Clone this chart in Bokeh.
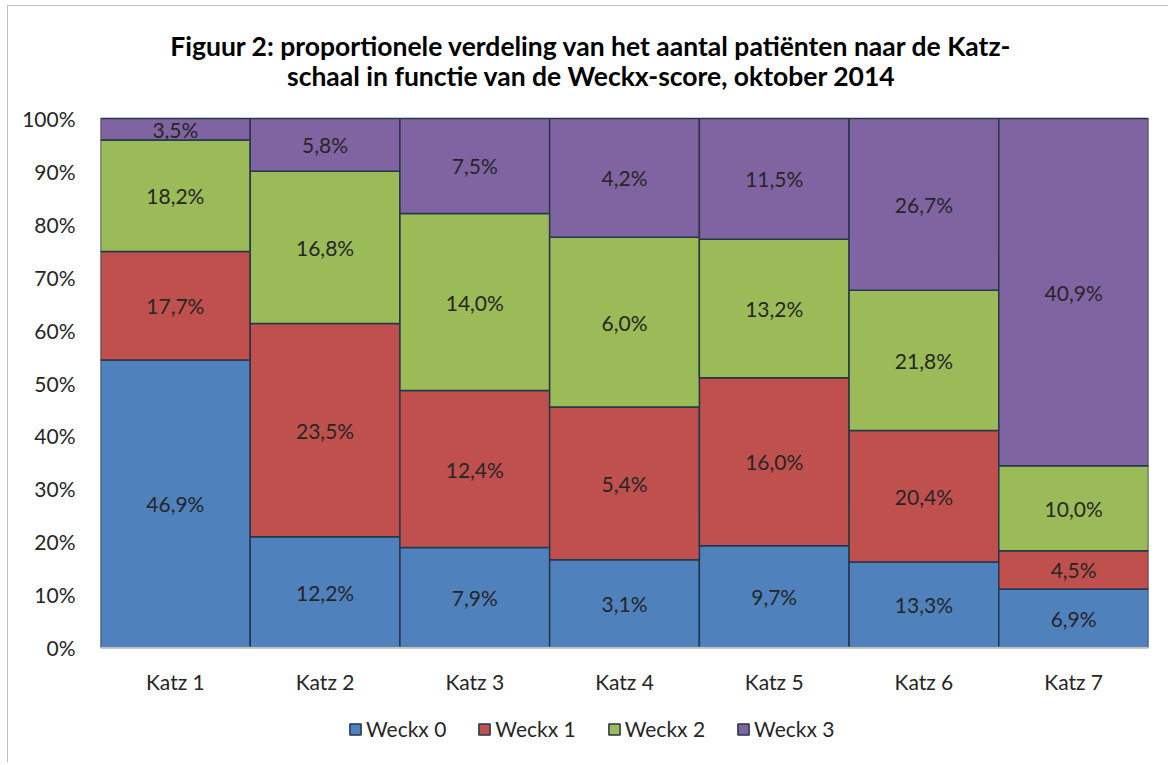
from bokeh.plotting import figure
from bokeh.models import (ColumnDataSource, Range1d, FixedTicker, NumeralTickFormatter,
                          Label, Legend, LegendItem, Span)
from bokeh.core.properties import value
from bokeh.embed import file_html
from bokeh.resources import INLINE

# ---- data ----
katz = ["Katz 1", "Katz 2", "Katz 3", "Katz 4", "Katz 5", "Katz 6", "Katz 7"]
series_names = ["Weckx 0", "Weckx 1", "Weckx 2", "Weckx 3"]
weckx0 = [46.9, 12.2, 7.9, 3.1, 9.7, 13.3, 6.9]
weckx1 = [17.7, 23.5, 12.4, 5.4, 16.0, 20.4, 4.5]
weckx2 = [18.2, 16.8, 14.0, 6.0, 13.2, 21.8, 10.0]
weckx3 = [3.5, 5.8, 7.5, 4.2, 11.5, 26.7, 40.9]
y_ticks = [0.0, 0.1, 0.2, 0.3, 0.4, 0.5, 0.6, 0.7, 0.8, 0.9, 1.0]
title_lines = ["Figuur 2: proportionele verdeling van het aantal patiënten naar de Katz-",
               "schaal in functie van de Weckx-score, oktober 2014"]

colors = ["#4F81BD", "#C0504D", "#9BBB59", "#8064A2"]
edge = "#25374B"
FONT = "Lato"
TXT = "#262626"
FS = "21px"

series = [weckx0, weckx1, weckx2, weckx3]
n = len(katz)
totals = [sum(s[i] for s in series) for i in range(n)]

# frame extended above (title) and below (category labels, legend) the 0-100% area
head_px = 98.0
plot_px = 529.0
foot_px = 103.0
p = figure(width=1161, height=757, output_backend="svg", toolbar_location=None,
           x_range=Range1d(0, n),
           y_range=Range1d(-foot_px / plot_px, 1 + head_px / plot_px),
           min_border_left=92, min_border_right=21, min_border_top=14, min_border_bottom=13)
p.outline_line_color = None
p.xgrid.visible = False
p.ygrid.visible = False
p.xaxis.visible = False
p.styles = {"border-left": "1px solid #bfbfbf", "border-top": "1px solid #bfbfbf",
            "margin-left": "7px", "margin-top": "5px"}

items = []
cum = [0.0] * n
for k, s in enumerate(series):
    bottoms = list(cum)
    tops = [cum[i] + s[i] / totals[i] for i in range(n)]
    cum = tops
    src = ColumnDataSource(dict(
        left=[i for i in range(n)], right=[i + 1 for i in range(n)],
        bottom=bottoms, top=tops,
        xc=[i + 0.5 for i in range(n)],
        yc=[(b + t) / 2 for b, t in zip(bottoms, tops)],
        lab=[("%.1f%%" % v).replace(".", ",") for v in s],
    ))
    r = p.quad(left="left", right="right", bottom="bottom", top="top", source=src,
               fill_color=colors[k], line_color=edge, line_width=1.5)
    p.text(x="xc", y="yc", text="lab", source=src, text_align="center",
           text_baseline="middle", text_font=value(FONT), text_font_size=FS,
           text_color=TXT)
    items.append(LegendItem(label=series_names[k], renderers=[r]))

# category axis: baseline + labels
p.add_layout(Span(location=0, dimension="width", line_color="#BFBFBF", line_width=1.5))
cat_src = ColumnDataSource(dict(x=[i + 0.5 for i in range(n)], y=[0] * n, t=katz))
p.text(x="x", y="y", text="t", source=cat_src, y_offset=34, text_align="center",
       text_baseline="middle", text_font=value(FONT), text_font_size=FS, text_color=TXT)

# value axis
p.yaxis.ticker = FixedTicker(ticks=y_ticks)
p.yaxis.formatter = NumeralTickFormatter(format="0%")
p.yaxis.axis_line_color = None
p.yaxis.major_tick_line_color = None
p.yaxis.minor_tick_line_color = None
p.yaxis.major_label_standoff = 19
p.yaxis.major_label_text_font = FONT
p.yaxis.major_label_text_font_size = FS
p.yaxis.major_label_text_color = TXT

# title
for line, ypos in zip(title_lines, [705, 675]):
    p.add_layout(Label(x=491, y=ypos, x_units="screen", y_units="screen", text=line,
                       text_align="center", text_baseline="middle",
                       text_font=FONT, text_font_style="bold", text_font_size="26.5px",
                       text_color="#000000"))

legend = Legend(items=items, orientation="horizontal", location=(248, 9),
                glyph_width=14, glyph_height=14, label_text_font=FONT,
                label_text_font_size=FS, label_text_color=TXT,
                spacing=31, label_standoff=4, padding=0, margin=0,
                border_line_color=None, background_fill_alpha=0)
p.add_layout(legend, "center")

open("out.html", "w").write(file_html(p, INLINE))
